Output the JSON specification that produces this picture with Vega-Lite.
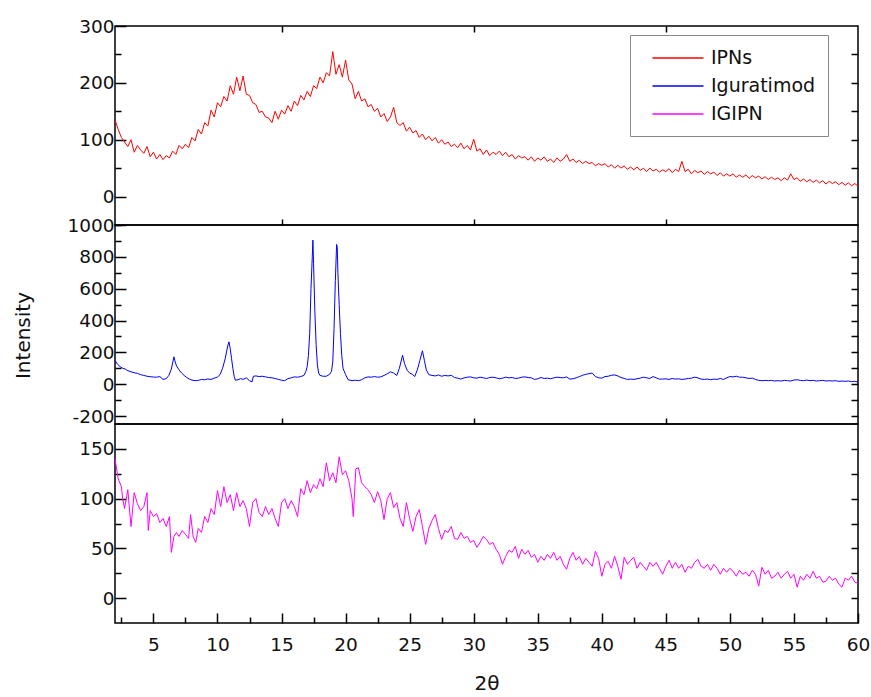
{
"$schema": "https://vega.github.io/schema/vega-lite/v6.json",
"padding": {"left": 12, "top": 16, "right": 5, "bottom": 2},
"spacing": 0,
"bounds": "flush",
"resolve": {"scale": {"color": "independent"}},
"config": {
 "view": {"stroke": "#000", "strokeWidth": 1.5},
 "axis": {"grid": false, "domain": false, "tickColor": "#000", "tickWidth": 1.5, "labelFont": "DejaVu Sans", "labelFontSize": 18.5, "labelColor": "#111", "titleFont": "DejaVu Sans", "titleColor": "#111", "titleFontWeight": "normal", "labelFlush": false, "labelOverlap": false, "labelExpr": "'' + datum.value"},
 "legend": {"strokeColor": "#888", "padding": 12, "symbolType": "M-2.5,0H2.5", "symbolSize": 416, "symbolStrokeWidth": 1.5, "symbolOffset": 25, "labelFont": "DejaVu Sans", "labelFontSize": 19, "labelColor": "#111", "rowPadding": 7, "labelOffset": 22}
},
"datasets": {
"ipns": [
{"x":2,"y":135},{"x":2.25,"y":118},{"x":2.5,"y":104},{"x":2.75,"y":96},{"x":3,"y":88},{"x":3.25,"y":100},{"x":3.5,"y":78},{"x":3.75,"y":90},{"x":4,"y":82},{"x":4.25,"y":76},{"x":4.5,"y":88},{"x":4.75,"y":70},{"x":5,"y":78},{"x":5.25,"y":66},{"x":5.5,"y":74},{"x":5.75,"y":65},{"x":6,"y":72},{"x":6.25,"y":68},{"x":6.5,"y":80},{"x":6.75,"y":74},{"x":7,"y":90},{"x":7.25,"y":84},{"x":7.5,"y":92},{"x":7.75,"y":86},{"x":8,"y":104},{"x":8.25,"y":98},{"x":8.5,"y":118},{"x":8.75,"y":110},{"x":9,"y":130},{"x":9.25,"y":124},{"x":9.5,"y":152},{"x":9.75,"y":140},{"x":10,"y":165},{"x":10.25,"y":158},{"x":10.5,"y":176},{"x":10.75,"y":168},{"x":11,"y":195},{"x":11.25,"y":180},{"x":11.5,"y":210},{"x":11.75,"y":186},{"x":12,"y":212},{"x":12.25,"y":180},{"x":12.5,"y":178},{"x":12.75,"y":165},{"x":13,"y":162},{"x":13.25,"y":148},{"x":13.5,"y":150},{"x":13.75,"y":140},{"x":14,"y":138},{"x":14.25,"y":130},{"x":14.5,"y":150},{"x":14.75,"y":136},{"x":15,"y":152},{"x":15.25,"y":145},{"x":15.5,"y":160},{"x":15.75,"y":150},{"x":16,"y":168},{"x":16.25,"y":160},{"x":16.5,"y":178},{"x":16.75,"y":170},{"x":17,"y":185},{"x":17.25,"y":176},{"x":17.5,"y":195},{"x":17.75,"y":190},{"x":18,"y":210},{"x":18.25,"y":200},{"x":18.5,"y":218},{"x":18.75,"y":212},{"x":19,"y":255},{"x":19.25,"y":215},{"x":19.5,"y":232},{"x":19.75,"y":210},{"x":20,"y":240},{"x":20.25,"y":205},{"x":20.5,"y":198},{"x":20.75,"y":172},{"x":21,"y":185},{"x":21.25,"y":168},{"x":21.5,"y":172},{"x":21.75,"y":158},{"x":22,"y":162},{"x":22.25,"y":150},{"x":22.5,"y":155},{"x":22.75,"y":140},{"x":23,"y":146},{"x":23.25,"y":132},{"x":23.5,"y":140},{"x":23.75,"y":157},{"x":24,"y":130},{"x":24.25,"y":125},{"x":24.5,"y":130},{"x":24.75,"y":115},{"x":25,"y":122},{"x":25.25,"y":112},{"x":25.5,"y":116},{"x":25.75,"y":104},{"x":26,"y":110},{"x":26.25,"y":100},{"x":26.5,"y":106},{"x":26.75,"y":98},{"x":27,"y":104},{"x":27.25,"y":94},{"x":27.5,"y":100},{"x":27.75,"y":92},{"x":28,"y":96},{"x":28.25,"y":88},{"x":28.5,"y":92},{"x":28.75,"y":86},{"x":29,"y":94},{"x":29.25,"y":84},{"x":29.5,"y":90},{"x":29.75,"y":82},{"x":30,"y":101},{"x":30.25,"y":80},{"x":30.5,"y":84},{"x":30.75,"y":74},{"x":31,"y":82},{"x":31.25,"y":72},{"x":31.5,"y":78},{"x":31.75,"y":74},{"x":32,"y":80},{"x":32.25,"y":72},{"x":32.5,"y":78},{"x":32.75,"y":70},{"x":33,"y":74},{"x":33.25,"y":66},{"x":33.5,"y":72},{"x":33.75,"y":68},{"x":34,"y":70},{"x":34.25,"y":64},{"x":34.5,"y":70},{"x":34.75,"y":62},{"x":35,"y":68},{"x":35.25,"y":64},{"x":35.5,"y":70},{"x":35.75,"y":62},{"x":36,"y":66},{"x":36.25,"y":60},{"x":36.5,"y":68},{"x":36.75,"y":62},{"x":37,"y":66},{"x":37.25,"y":74},{"x":37.5,"y":62},{"x":37.75,"y":66},{"x":38,"y":60},{"x":38.25,"y":64},{"x":38.5,"y":58},{"x":38.75,"y":62},{"x":39,"y":58},{"x":39.25,"y":60},{"x":39.5,"y":54},{"x":39.75,"y":58},{"x":40,"y":55},{"x":40.25,"y":58},{"x":40.5,"y":52},{"x":40.75,"y":56},{"x":41,"y":50},{"x":41.25,"y":55},{"x":41.5,"y":50},{"x":41.75,"y":54},{"x":42,"y":48},{"x":42.25,"y":52},{"x":42.5,"y":47},{"x":42.75,"y":52},{"x":43,"y":46},{"x":43.25,"y":50},{"x":43.5,"y":44},{"x":43.75,"y":50},{"x":44,"y":45},{"x":44.25,"y":48},{"x":44.5,"y":43},{"x":44.75,"y":47},{"x":45,"y":44},{"x":45.25,"y":49},{"x":45.5,"y":42},{"x":45.75,"y":48},{"x":46,"y":44},{"x":46.25,"y":62},{"x":46.5,"y":44},{"x":46.75,"y":48},{"x":47,"y":40},{"x":47.25,"y":46},{"x":47.5,"y":42},{"x":47.75,"y":45},{"x":48,"y":39},{"x":48.25,"y":44},{"x":48.5,"y":40},{"x":48.75,"y":43},{"x":49,"y":37},{"x":49.25,"y":42},{"x":49.5,"y":36},{"x":49.75,"y":40},{"x":50,"y":36},{"x":50.25,"y":40},{"x":50.5,"y":34},{"x":50.75,"y":38},{"x":51,"y":34},{"x":51.25,"y":38},{"x":51.5,"y":32},{"x":51.75,"y":37},{"x":52,"y":33},{"x":52.25,"y":36},{"x":52.5,"y":31},{"x":52.75,"y":35},{"x":53,"y":30},{"x":53.25,"y":34},{"x":53.5,"y":30},{"x":53.75,"y":33},{"x":54,"y":28},{"x":54.25,"y":33},{"x":54.5,"y":29},{"x":54.75,"y":40},{"x":55,"y":30},{"x":55.25,"y":33},{"x":55.5,"y":27},{"x":55.75,"y":31},{"x":56,"y":26},{"x":56.25,"y":30},{"x":56.5,"y":25},{"x":56.75,"y":29},{"x":57,"y":24},{"x":57.25,"y":28},{"x":57.5,"y":22},{"x":57.75,"y":27},{"x":58,"y":23},{"x":58.25,"y":26},{"x":58.5,"y":21},{"x":58.75,"y":25},{"x":59,"y":20},{"x":59.25,"y":24},{"x":59.5,"y":19},{"x":59.75,"y":23},{"x":60,"y":18}
],
"igu": [
{"x":2,"y":150},{"x":2.2,"y":125},{"x":2.4,"y":110},{"x":2.6,"y":100},{"x":2.8,"y":95},{"x":3,"y":85},{"x":3.25,"y":78},{"x":3.5,"y":72},{"x":3.75,"y":68},{"x":4,"y":60},{"x":4.25,"y":55},{"x":4.5,"y":50},{"x":4.75,"y":47},{"x":5,"y":45},{"x":5.25,"y":44},{"x":5.5,"y":48},{"x":5.75,"y":30},{"x":6,"y":35},{"x":6.2,"y":55},{"x":6.4,"y":95},{"x":6.6,"y":172},{"x":6.7,"y":140},{"x":6.8,"y":115},{"x":7,"y":90},{"x":7.2,"y":70},{"x":7.4,"y":55},{"x":7.6,"y":42},{"x":7.8,"y":32},{"x":8,"y":26},{"x":8.25,"y":22},{"x":8.5,"y":24},{"x":8.75,"y":30},{"x":9,"y":28},{"x":9.25,"y":33},{"x":9.5,"y":30},{"x":9.75,"y":38},{"x":10,"y":45},{"x":10.2,"y":60},{"x":10.4,"y":100},{"x":10.6,"y":160},{"x":10.8,"y":240},{"x":10.9,"y":266},{"x":11,"y":220},{"x":11.1,"y":160},{"x":11.2,"y":100},{"x":11.3,"y":50},{"x":11.4,"y":25},{"x":11.6,"y":28},{"x":11.8,"y":35},{"x":12,"y":30},{"x":12.25,"y":40},{"x":12.5,"y":22},{"x":12.7,"y":15},{"x":12.8,"y":50},{"x":13,"y":52},{"x":13.25,"y":48},{"x":13.5,"y":50},{"x":13.75,"y":46},{"x":14,"y":42},{"x":14.25,"y":40},{"x":14.5,"y":36},{"x":14.75,"y":30},{"x":15,"y":25},{"x":15.25,"y":22},{"x":15.5,"y":35},{"x":15.75,"y":40},{"x":16,"y":46},{"x":16.25,"y":44},{"x":16.5,"y":48},{"x":16.75,"y":55},{"x":16.9,"y":80},{"x":17,"y":110},{"x":17.1,"y":180},{"x":17.2,"y":320},{"x":17.3,"y":600},{"x":17.4,"y":800},{"x":17.45,"y":905},{"x":17.5,"y":760},{"x":17.6,"y":460},{"x":17.7,"y":250},{"x":17.8,"y":120},{"x":17.9,"y":70},{"x":18,"y":55},{"x":18.25,"y":50},{"x":18.5,"y":50},{"x":18.75,"y":62},{"x":18.9,"y":80},{"x":19,"y":140},{"x":19.1,"y":350},{"x":19.2,"y":650},{"x":19.3,"y":878},{"x":19.35,"y":860},{"x":19.4,"y":700},{"x":19.5,"y":500},{"x":19.6,"y":320},{"x":19.7,"y":180},{"x":19.8,"y":100},{"x":20,"y":60},{"x":20.2,"y":28},{"x":20.5,"y":22},{"x":20.75,"y":25},{"x":21,"y":22},{"x":21.25,"y":28},{"x":21.5,"y":40},{"x":21.75,"y":46},{"x":22,"y":44},{"x":22.25,"y":48},{"x":22.5,"y":44},{"x":22.75,"y":46},{"x":23,"y":55},{"x":23.25,"y":65},{"x":23.5,"y":78},{"x":23.75,"y":70},{"x":24,"y":55},{"x":24.2,"y":100},{"x":24.45,"y":182},{"x":24.6,"y":130},{"x":24.8,"y":88},{"x":25,"y":70},{"x":25.2,"y":63},{"x":25.4,"y":48},{"x":25.6,"y":90},{"x":25.8,"y":150},{"x":26,"y":210},{"x":26.15,"y":150},{"x":26.3,"y":90},{"x":26.5,"y":60},{"x":26.75,"y":55},{"x":27,"y":52},{"x":27.25,"y":58},{"x":27.5,"y":50},{"x":27.75,"y":55},{"x":28,"y":52},{"x":28.25,"y":56},{"x":28.5,"y":42},{"x":28.75,"y":38},{"x":29,"y":32},{"x":29.25,"y":40},{"x":29.5,"y":44},{"x":29.75,"y":46},{"x":30,"y":40},{"x":30.25,"y":38},{"x":30.5,"y":44},{"x":30.75,"y":40},{"x":31,"y":36},{"x":31.25,"y":42},{"x":31.5,"y":44},{"x":31.75,"y":40},{"x":32,"y":34},{"x":32.25,"y":38},{"x":32.5,"y":44},{"x":32.75,"y":40},{"x":33,"y":42},{"x":33.25,"y":36},{"x":33.5,"y":38},{"x":33.75,"y":44},{"x":34,"y":46},{"x":34.25,"y":42},{"x":34.5,"y":40},{"x":34.75,"y":30},{"x":35,"y":34},{"x":35.25,"y":42},{"x":35.5,"y":36},{"x":35.75,"y":38},{"x":36,"y":34},{"x":36.25,"y":40},{"x":36.5,"y":44},{"x":36.75,"y":42},{"x":37,"y":40},{"x":37.25,"y":46},{"x":37.5,"y":32},{"x":37.75,"y":34},{"x":38,"y":40},{"x":38.25,"y":48},{"x":38.5,"y":56},{"x":38.75,"y":62},{"x":39,"y":66},{"x":39.25,"y":70},{"x":39.5,"y":48},{"x":39.75,"y":40},{"x":40,"y":38},{"x":40.25,"y":48},{"x":40.5,"y":50},{"x":40.75,"y":56},{"x":41,"y":58},{"x":41.25,"y":52},{"x":41.5,"y":42},{"x":41.75,"y":36},{"x":42,"y":30},{"x":42.25,"y":32},{"x":42.5,"y":30},{"x":42.75,"y":34},{"x":43,"y":38},{"x":43.25,"y":44},{"x":43.5,"y":40},{"x":43.75,"y":36},{"x":44,"y":48},{"x":44.25,"y":40},{"x":44.5,"y":32},{"x":44.75,"y":32},{"x":45,"y":34},{"x":45.25,"y":30},{"x":45.5,"y":36},{"x":45.75,"y":32},{"x":46,"y":34},{"x":46.25,"y":30},{"x":46.5,"y":32},{"x":46.75,"y":36},{"x":47,"y":38},{"x":47.25,"y":44},{"x":47.5,"y":40},{"x":47.75,"y":32},{"x":48,"y":30},{"x":48.25,"y":32},{"x":48.5,"y":28},{"x":48.75,"y":32},{"x":49,"y":30},{"x":49.25,"y":36},{"x":49.5,"y":30},{"x":49.75,"y":40},{"x":50,"y":48},{"x":50.25,"y":46},{"x":50.5,"y":50},{"x":50.75,"y":44},{"x":51,"y":44},{"x":51.25,"y":40},{"x":51.5,"y":36},{"x":51.75,"y":38},{"x":52,"y":30},{"x":52.25,"y":24},{"x":52.5,"y":22},{"x":52.75,"y":24},{"x":53,"y":22},{"x":53.25,"y":24},{"x":53.5,"y":20},{"x":53.75,"y":22},{"x":54,"y":20},{"x":54.25,"y":24},{"x":54.5,"y":22},{"x":54.75,"y":20},{"x":55,"y":26},{"x":55.25,"y":28},{"x":55.5,"y":24},{"x":55.75,"y":22},{"x":56,"y":26},{"x":56.25,"y":22},{"x":56.5,"y":24},{"x":56.75,"y":20},{"x":57,"y":22},{"x":57.25,"y":24},{"x":57.5,"y":20},{"x":57.75,"y":22},{"x":58,"y":20},{"x":58.25,"y":22},{"x":58.5,"y":18},{"x":58.75,"y":20},{"x":59,"y":18},{"x":59.25,"y":20},{"x":59.5,"y":16},{"x":59.75,"y":18},{"x":60,"y":14}
],
"igipn": [
{"x":2,"y":140},{"x":2.25,"y":120},{"x":2.5,"y":112},{"x":2.6,"y":100},{"x":2.75,"y":90},{"x":3,"y":109},{"x":3.25,"y":72},{"x":3.5,"y":106},{"x":3.75,"y":95},{"x":4,"y":88},{"x":4.25,"y":92},{"x":4.5,"y":106},{"x":4.6,"y":68},{"x":4.75,"y":88},{"x":5,"y":82},{"x":5.25,"y":85},{"x":5.5,"y":76},{"x":5.75,"y":80},{"x":6,"y":72},{"x":6.25,"y":82},{"x":6.4,"y":46},{"x":6.6,"y":62},{"x":6.8,"y":66},{"x":7,"y":62},{"x":7.25,"y":68},{"x":7.5,"y":64},{"x":7.75,"y":60},{"x":7.9,"y":84},{"x":8.1,"y":62},{"x":8.3,"y":56},{"x":8.5,"y":70},{"x":8.75,"y":66},{"x":9,"y":82},{"x":9.25,"y":76},{"x":9.5,"y":90},{"x":9.75,"y":84},{"x":10,"y":108},{"x":10.25,"y":92},{"x":10.5,"y":112},{"x":10.75,"y":96},{"x":11,"y":104},{"x":11.25,"y":88},{"x":11.5,"y":106},{"x":11.75,"y":92},{"x":12,"y":98},{"x":12.25,"y":90},{"x":12.5,"y":72},{"x":12.75,"y":96},{"x":13,"y":100},{"x":13.25,"y":86},{"x":13.5,"y":82},{"x":13.75,"y":92},{"x":14,"y":84},{"x":14.25,"y":90},{"x":14.5,"y":80},{"x":14.75,"y":72},{"x":15,"y":96},{"x":15.25,"y":100},{"x":15.5,"y":90},{"x":15.75,"y":98},{"x":16,"y":92},{"x":16.25,"y":82},{"x":16.5,"y":110},{"x":16.75,"y":104},{"x":17,"y":118},{"x":17.25,"y":106},{"x":17.5,"y":114},{"x":17.75,"y":110},{"x":18,"y":120},{"x":18.25,"y":112},{"x":18.5,"y":136},{"x":18.75,"y":118},{"x":19,"y":126},{"x":19.25,"y":116},{"x":19.5,"y":142},{"x":19.75,"y":124},{"x":20,"y":128},{"x":20.25,"y":118},{"x":20.5,"y":100},{"x":20.6,"y":82},{"x":20.8,"y":130},{"x":21,"y":131},{"x":21.25,"y":116},{"x":21.5,"y":112},{"x":21.75,"y":109},{"x":22,"y":104},{"x":22.25,"y":96},{"x":22.5,"y":107},{"x":22.75,"y":98},{"x":23,"y":79},{"x":23.25,"y":100},{"x":23.5,"y":106},{"x":23.75,"y":91},{"x":24,"y":96},{"x":24.25,"y":80},{"x":24.5,"y":72},{"x":24.75,"y":96},{"x":25,"y":80},{"x":25.25,"y":67},{"x":25.5,"y":82},{"x":25.75,"y":89},{"x":26,"y":72},{"x":26.25,"y":54},{"x":26.5,"y":70},{"x":26.75,"y":78},{"x":27,"y":84},{"x":27.25,"y":70},{"x":27.5,"y":59},{"x":27.75,"y":68},{"x":28,"y":66},{"x":28.25,"y":72},{"x":28.5,"y":60},{"x":28.75,"y":59},{"x":29,"y":66},{"x":29.25,"y":60},{"x":29.5,"y":62},{"x":29.75,"y":56},{"x":30,"y":58},{"x":30.25,"y":51},{"x":30.5,"y":56},{"x":30.75,"y":62},{"x":31,"y":59},{"x":31.25,"y":54},{"x":31.5,"y":56},{"x":31.75,"y":49},{"x":32,"y":44},{"x":32.25,"y":34},{"x":32.5,"y":42},{"x":32.75,"y":48},{"x":33,"y":46},{"x":33.25,"y":52},{"x":33.5,"y":40},{"x":33.75,"y":49},{"x":34,"y":44},{"x":34.25,"y":48},{"x":34.5,"y":41},{"x":34.75,"y":44},{"x":35,"y":36},{"x":35.25,"y":42},{"x":35.5,"y":38},{"x":35.75,"y":44},{"x":36,"y":40},{"x":36.25,"y":46},{"x":36.5,"y":38},{"x":36.75,"y":42},{"x":37,"y":34},{"x":37.25,"y":29},{"x":37.5,"y":40},{"x":37.75,"y":46},{"x":38,"y":38},{"x":38.25,"y":42},{"x":38.5,"y":34},{"x":38.75,"y":40},{"x":39,"y":36},{"x":39.25,"y":32},{"x":39.5,"y":47},{"x":39.75,"y":40},{"x":40,"y":22},{"x":40.25,"y":34},{"x":40.5,"y":37},{"x":40.75,"y":30},{"x":41,"y":42},{"x":41.25,"y":32},{"x":41.5,"y":19},{"x":41.75,"y":41},{"x":42,"y":34},{"x":42.25,"y":38},{"x":42.5,"y":41},{"x":42.75,"y":30},{"x":43,"y":36},{"x":43.25,"y":32},{"x":43.5,"y":28},{"x":43.75,"y":36},{"x":44,"y":32},{"x":44.25,"y":36},{"x":44.5,"y":30},{"x":44.75,"y":24},{"x":45,"y":32},{"x":45.25,"y":38},{"x":45.5,"y":30},{"x":45.75,"y":36},{"x":46,"y":30},{"x":46.25,"y":34},{"x":46.5,"y":26},{"x":46.75,"y":32},{"x":47,"y":30},{"x":47.25,"y":36},{"x":47.5,"y":39},{"x":47.75,"y":32},{"x":48,"y":30},{"x":48.25,"y":34},{"x":48.5,"y":28},{"x":48.75,"y":34},{"x":49,"y":30},{"x":49.25,"y":24},{"x":49.5,"y":30},{"x":49.75,"y":26},{"x":50,"y":30},{"x":50.25,"y":27},{"x":50.5,"y":22},{"x":50.75,"y":28},{"x":51,"y":24},{"x":51.25,"y":26},{"x":51.5,"y":22},{"x":51.75,"y":28},{"x":52,"y":24},{"x":52.25,"y":12},{"x":52.5,"y":31},{"x":52.75,"y":24},{"x":53,"y":28},{"x":53.25,"y":20},{"x":53.5,"y":22},{"x":53.75,"y":26},{"x":54,"y":20},{"x":54.25,"y":24},{"x":54.5,"y":27},{"x":54.75,"y":20},{"x":55,"y":24},{"x":55.25,"y":11},{"x":55.5,"y":22},{"x":55.75,"y":18},{"x":56,"y":24},{"x":56.25,"y":20},{"x":56.5,"y":27},{"x":56.75,"y":20},{"x":57,"y":22},{"x":57.25,"y":16},{"x":57.5,"y":17},{"x":57.75,"y":22},{"x":58,"y":18},{"x":58.25,"y":20},{"x":58.5,"y":14},{"x":58.75,"y":11},{"x":59,"y":20},{"x":59.25,"y":18},{"x":59.5,"y":22},{"x":59.75,"y":16},{"x":60,"y":15}
]
},
"vconcat": [
{
 "width": 743, "height": 199,
 "resolve": {"axis": {"x": "independent", "y": "independent"}},
 "layer": [
  {"data": {"name": "ipns"}, "mark": {"type": "line", "strokeWidth": 1},
   "encoding": {
    "x": {"field": "x", "type": "quantitative", "scale": {"domain": [2, 60], "nice": false, "zero": false}, "axis": {"orient": "bottom", "values": [15, 30, 45], "tickSize": -6, "labels": false, "title": null}},
    "y": {"field": "y", "type": "quantitative", "scale": {"domain": [-50, 300], "nice": false, "zero": false}, "axis": {"orient": "left", "values": [0, 100, 200, 300], "tickSize": -11, "labelPadding": 12, "title": null}},
    "color": {"datum": "IPNs", "type": "nominal", "scale": {"domain": ["IPNs", "Iguratimod", "IGIPN"], "range": ["#ff0000", "#0000ff", "#ff00ff"]}, "legend": {"title": null, "orient": "none", "legendX": 515, "legendY": 9}}
   }},
  {"data": {"name": "ipns"}, "transform": [{"filter": "datum.x == 2"}], "mark": {"type": "point", "opacity": 0},
   "encoding": {
    "x": {"field": "x", "type": "quantitative", "scale": {"domain": [2, 60], "nice": false, "zero": false}, "axis": {"orient": "top", "values": [15, 30, 45], "tickSize": -6, "labels": false, "title": null}},
    "y": {"field": "y", "type": "quantitative", "scale": {"domain": [-50, 300], "nice": false, "zero": false}, "axis": {"orient": "left", "values": [-50, 50, 150, 250], "tickSize": -6, "labels": false, "title": null}}
   }},
  {"data": {"name": "ipns"}, "transform": [{"filter": "datum.x == 2"}], "mark": {"type": "point", "opacity": 0},
   "encoding": {
    "x": {"field": "x", "type": "quantitative", "scale": {"domain": [2, 60], "nice": false, "zero": false}, "axis": null},
    "y": {"field": "y", "type": "quantitative", "scale": {"domain": [-50, 300], "nice": false, "zero": false}, "axis": {"orient": "right", "values": [0, 50, 100, 150, 200, 250], "tickSize": -7, "labels": false, "title": null}}
   }}
 ]
},
{
 "width": 743, "height": 199,
 "resolve": {"axis": {"x": "independent", "y": "independent"}},
 "layer": [
  {"data": {"name": "igu"}, "mark": {"type": "line", "strokeWidth": 1, "color": "#0000ff"},
   "encoding": {
    "x": {"field": "x", "type": "quantitative", "scale": {"domain": [2, 60], "nice": false, "zero": false}, "axis": {"orient": "bottom", "values": [15, 30, 45], "tickSize": -6, "labels": false, "title": null}},
    "y": {"field": "y", "type": "quantitative", "scale": {"domain": [-250, 1000], "nice": false, "zero": false}, "axis": {"orient": "left", "values": [-200, 0, 200, 400, 600, 800, 1000], "tickSize": -11, "labelPadding": 12, "title": "Intensity", "titleFontSize": 20, "titleX": -92, "titleY": 110, "titleBaseline": "middle"}}
   }},
  {"data": {"name": "igu"}, "transform": [{"filter": "datum.x == 2"}], "mark": {"type": "point", "opacity": 0},
   "encoding": {
    "x": {"field": "x", "type": "quantitative", "scale": {"domain": [2, 60], "nice": false, "zero": false}, "axis": null},
    "y": {"field": "y", "type": "quantitative", "scale": {"domain": [-250, 1000], "nice": false, "zero": false}, "axis": {"orient": "left", "values": [-100, 100, 300, 500, 700, 900], "tickSize": -6, "labels": false, "title": null}}
   }},
  {"data": {"name": "igu"}, "transform": [{"filter": "datum.x == 2"}], "mark": {"type": "point", "opacity": 0},
   "encoding": {
    "x": {"field": "x", "type": "quantitative", "scale": {"domain": [2, 60], "nice": false, "zero": false}, "axis": null},
    "y": {"field": "y", "type": "quantitative", "scale": {"domain": [-250, 1000], "nice": false, "zero": false}, "axis": {"orient": "right", "values": [-200, -100, 0, 100, 200, 300, 400, 500, 600, 700, 800, 900], "tickSize": -7, "labels": false, "title": null}}
   }}
 ]
},
{
 "width": 743, "height": 199,
 "resolve": {"axis": {"x": "independent", "y": "independent"}},
 "layer": [
  {"data": {"name": "igipn"}, "mark": {"type": "line", "strokeWidth": 1, "color": "#ff00ff"},
   "encoding": {
    "x": {"field": "x", "type": "quantitative", "scale": {"domain": [2, 60], "nice": false, "zero": false}, "axis": {"orient": "bottom", "values": [5, 10, 15, 20, 25, 30, 35, 40, 45, 50, 55, 60], "tickSize": -10, "labelPadding": 22, "title": "2θ", "titleFontSize": 20, "titlePadding": 20}},
    "y": {"field": "y", "type": "quantitative", "scale": {"domain": [-25, 175], "nice": false, "zero": false}, "axis": {"orient": "left", "values": [0, 50, 100, 150], "tickSize": -11, "labelPadding": 12, "title": null}}
   }},
  {"data": {"name": "igipn"}, "transform": [{"filter": "datum.x == 2"}], "mark": {"type": "point", "opacity": 0},
   "encoding": {
    "x": {"field": "x", "type": "quantitative", "scale": {"domain": [2, 60], "nice": false, "zero": false}, "axis": {"orient": "bottom", "values": [2.5, 7.5, 12.5, 17.5, 22.5, 27.5, 32.5, 37.5, 42.5, 47.5, 52.5, 57.5], "tickSize": -6, "labels": false, "title": null}},
    "y": {"field": "y", "type": "quantitative", "scale": {"domain": [-25, 175], "nice": false, "zero": false}, "axis": {"orient": "left", "values": [25, 75, 125], "tickSize": -6, "labels": false, "title": null}}
   }},
  {"data": {"name": "igipn"}, "transform": [{"filter": "datum.x == 2"}], "mark": {"type": "point", "opacity": 0},
   "encoding": {
    "x": {"field": "x", "type": "quantitative", "scale": {"domain": [2, 60], "nice": false, "zero": false}, "axis": null},
    "y": {"field": "y", "type": "quantitative", "scale": {"domain": [-25, 175], "nice": false, "zero": false}, "axis": {"orient": "right", "values": [0, 25, 50, 75, 100, 125, 150], "tickSize": -7, "labels": false, "title": null}}
   }}
 ]
}
]
}
